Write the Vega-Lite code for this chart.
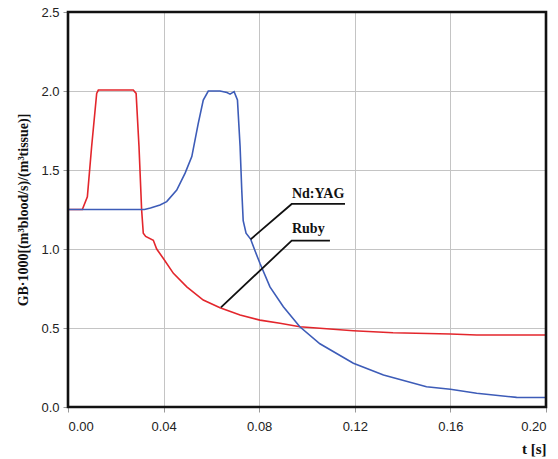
{
  "$schema": "https://vega.github.io/schema/vega-lite/v6.json",
  "width": 478,
  "height": 395,
  "autosize": {"type": "none"},
  "padding": {"left": 68, "top": 12, "right": 12, "bottom": 52},
  "background": "white",
  "config": {
    "view": {"stroke": null},
    "axis": {
      "domain": false,
      "grid": true,
      "gridColor": "#c4c4c4",
      "gridWidth": 1,
      "tickColor": "#999999",
      "tickSize": 5,
      "labelFont": "Liberation Sans",
      "labelFontSize": 13,
      "labelColor": "#222222",
      "titleFont": "Liberation Serif",
      "titleFontWeight": "bold",
      "titleFontSize": 14,
      "titleColor": "#111111"
    }
  },
  "datasets": {
    "series": [
      {"s": "Ruby", "t": 0, "v": 1.25},
      {"s": "Ruby", "t": 0.006, "v": 1.25},
      {"s": "Ruby", "t": 0.0081, "v": 1.33},
      {"s": "Ruby", "t": 0.0099, "v": 1.65},
      {"s": "Ruby", "t": 0.012, "v": 1.985},
      {"s": "Ruby", "t": 0.0127, "v": 2.006},
      {"s": "Ruby", "t": 0.0273, "v": 2.006},
      {"s": "Ruby", "t": 0.0285, "v": 1.985},
      {"s": "Ruby", "t": 0.0297, "v": 1.65},
      {"s": "Ruby", "t": 0.0308, "v": 1.25},
      {"s": "Ruby", "t": 0.0315, "v": 1.1},
      {"s": "Ruby", "t": 0.0325, "v": 1.08},
      {"s": "Ruby", "t": 0.0357, "v": 1.055},
      {"s": "Ruby", "t": 0.0371, "v": 1.0},
      {"s": "Ruby", "t": 0.0399, "v": 0.94},
      {"s": "Ruby", "t": 0.0441, "v": 0.846},
      {"s": "Ruby", "t": 0.0497, "v": 0.76},
      {"s": "Ruby", "t": 0.0566, "v": 0.677},
      {"s": "Ruby", "t": 0.0636, "v": 0.628},
      {"s": "Ruby", "t": 0.072, "v": 0.582},
      {"s": "Ruby", "t": 0.0803, "v": 0.55},
      {"s": "Ruby", "t": 0.0887, "v": 0.53},
      {"s": "Ruby", "t": 0.097, "v": 0.508},
      {"s": "Ruby", "t": 0.1194, "v": 0.483},
      {"s": "Ruby", "t": 0.136, "v": 0.47},
      {"s": "Ruby", "t": 0.16, "v": 0.462},
      {"s": "Ruby", "t": 0.171, "v": 0.456},
      {"s": "Ruby", "t": 0.2, "v": 0.456},
      {"s": "Nd:YAG", "t": 0, "v": 1.25},
      {"s": "Nd:YAG", "t": 0.032, "v": 1.25},
      {"s": "Nd:YAG", "t": 0.0345, "v": 1.26},
      {"s": "Nd:YAG", "t": 0.0385, "v": 1.278},
      {"s": "Nd:YAG", "t": 0.0413, "v": 1.3},
      {"s": "Nd:YAG", "t": 0.0455, "v": 1.373},
      {"s": "Nd:YAG", "t": 0.049, "v": 1.48},
      {"s": "Nd:YAG", "t": 0.0518, "v": 1.585},
      {"s": "Nd:YAG", "t": 0.0545, "v": 1.795},
      {"s": "Nd:YAG", "t": 0.0566, "v": 1.943},
      {"s": "Nd:YAG", "t": 0.0587, "v": 2.0},
      {"s": "Nd:YAG", "t": 0.0636, "v": 2.0},
      {"s": "Nd:YAG", "t": 0.0665, "v": 1.99},
      {"s": "Nd:YAG", "t": 0.0678, "v": 1.98},
      {"s": "Nd:YAG", "t": 0.0695, "v": 1.996},
      {"s": "Nd:YAG", "t": 0.0709, "v": 1.943},
      {"s": "Nd:YAG", "t": 0.072, "v": 1.65},
      {"s": "Nd:YAG", "t": 0.0727, "v": 1.373},
      {"s": "Nd:YAG", "t": 0.0733, "v": 1.18},
      {"s": "Nd:YAG", "t": 0.0745, "v": 1.1},
      {"s": "Nd:YAG", "t": 0.0764, "v": 1.063},
      {"s": "Nd:YAG", "t": 0.0782, "v": 0.99},
      {"s": "Nd:YAG", "t": 0.0803, "v": 0.91},
      {"s": "Nd:YAG", "t": 0.0845, "v": 0.76},
      {"s": "Nd:YAG", "t": 0.0901, "v": 0.635},
      {"s": "Nd:YAG", "t": 0.097, "v": 0.508},
      {"s": "Nd:YAG", "t": 0.1054, "v": 0.4},
      {"s": "Nd:YAG", "t": 0.1194, "v": 0.277},
      {"s": "Nd:YAG", "t": 0.132, "v": 0.203},
      {"s": "Nd:YAG", "t": 0.15, "v": 0.128},
      {"s": "Nd:YAG", "t": 0.16, "v": 0.112},
      {"s": "Nd:YAG", "t": 0.171, "v": 0.087},
      {"s": "Nd:YAG", "t": 0.1877, "v": 0.061},
      {"s": "Nd:YAG", "t": 0.2, "v": 0.06}
    ],
    "leaders": [
      {"g": "Nd:YAG", "o": 1, "t": 0.0764, "v": 1.061},
      {"g": "Nd:YAG", "o": 2, "t": 0.0936, "v": 1.285},
      {"g": "Nd:YAG", "o": 3, "t": 0.1159, "v": 1.285},
      {"g": "Ruby", "o": 1, "t": 0.064, "v": 0.631},
      {"g": "Ruby", "o": 2, "t": 0.0936, "v": 1.053},
      {"g": "Ruby", "o": 3, "t": 0.1096, "v": 1.053}
    ],
    "labels": [
      {"label": "Nd:YAG", "t": 0.0937, "v": 1.323},
      {"label": "Ruby", "t": 0.0937, "v": 1.1}
    ],
    "frame": [
      {"o": 1, "t": 0, "v": 0},
      {"o": 2, "t": 0, "v": 2.5},
      {"o": 3, "t": 0.2, "v": 2.5},
      {"o": 4, "t": 0.2, "v": 0},
      {"o": 5, "t": 0, "v": 0}
    ]
  },
  "encoding": {
    "x": {
      "field": "t",
      "type": "quantitative",
      "scale": {"domain": [0, 0.2], "nice": false, "zero": false},
      "axis": {
        "values": [0, 0.04, 0.08, 0.12, 0.16, 0.2],
        "format": ".2f",
        "labelPadding": 8,
        "title": "t [s]",
        "titleAnchor": "end",
        "titlePadding": 8,
        "titleFontSize": 15
      }
    },
    "y": {
      "field": "v",
      "type": "quantitative",
      "scale": {"domain": [0, 2.5], "nice": false},
      "axis": {
        "values": [0, 0.5, 1, 1.5, 2, 2.5],
        "format": ".1f",
        "labelPadding": 4,
        "title": "GB·1000[(m³blood/s)/(m³tissue)]",
        "titlePadding": 10
      }
    }
  },
  "layer": [
    {
      "data": {"name": "series"},
      "mark": {"type": "line", "strokeWidth": 1.6, "interpolate": "linear"},
      "encoding": {
        "color": {
          "field": "s",
          "type": "nominal",
          "scale": {"domain": ["Ruby", "Nd:YAG"], "range": ["#e3262c", "#3d5cb8"]},
          "legend": null
        },
        "order": {"field": "t", "type": "quantitative"}
      }
    },
    {
      "data": {"name": "leaders"},
      "mark": {"type": "line", "color": "#111", "strokeWidth": 1.8},
      "encoding": {
        "detail": {"field": "g", "type": "nominal"},
        "order": {"field": "o", "type": "quantitative"}
      }
    },
    {
      "data": {"name": "labels"},
      "mark": {
        "type": "text",
        "align": "left",
        "baseline": "alphabetic",
        "font": "Liberation Serif",
        "fontWeight": "bold",
        "fontSize": 14,
        "color": "#111"
      },
      "encoding": {"text": {"field": "label", "type": "nominal"}}
    },
    {
      "data": {"name": "frame"},
      "mark": {"type": "line", "color": "#111", "strokeWidth": 2.6, "strokeCap": "square", "strokeJoin": "miter", "clip": false},
      "encoding": {
        "order": {"field": "o", "type": "quantitative"}
      }
    }
  ]
}
